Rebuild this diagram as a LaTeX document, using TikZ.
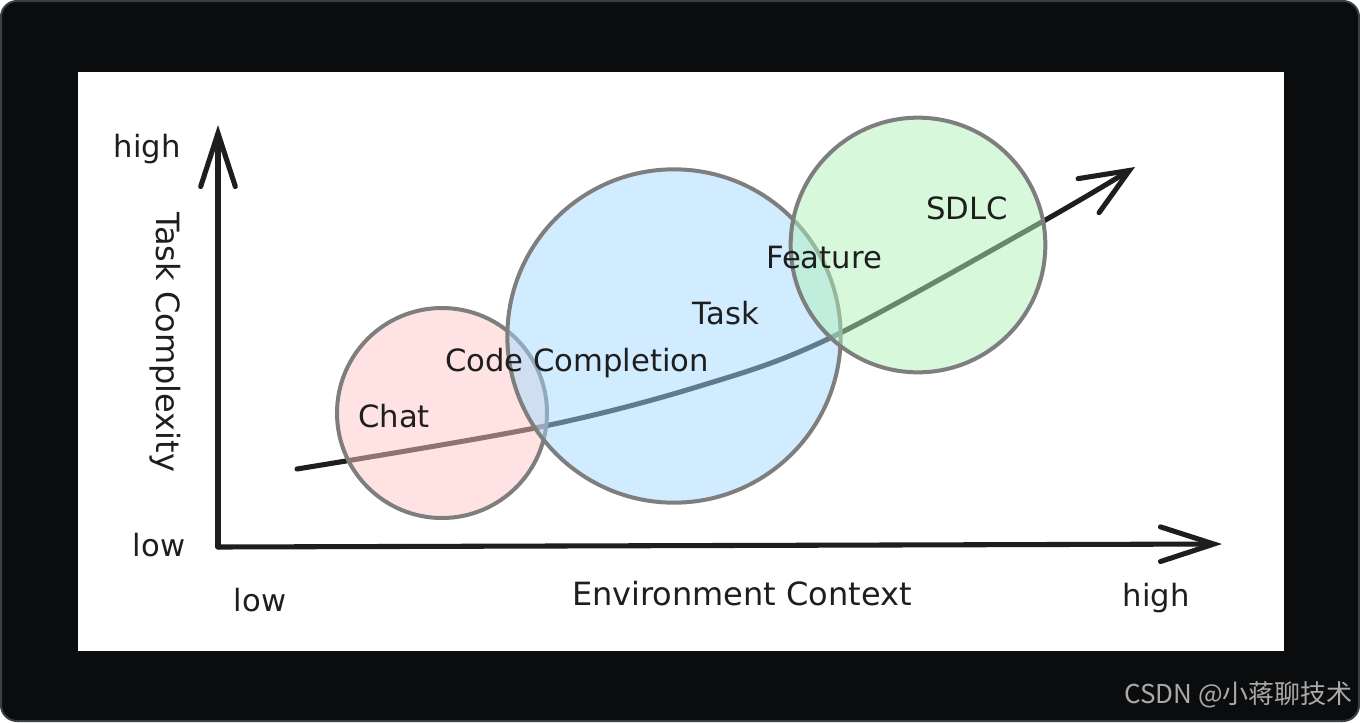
\documentclass[tikz,border=0pt]{standalone}
\usepackage{fontspec}
\setmainfont{DejaVu Sans}
\newfontfamily\cjk{Noto Sans CJK SC}
\usetikzlibrary{arrows.meta}
\definecolor{framebg}{HTML}{0B0C0E}
\definecolor{frameedge}{HTML}{3A3E45}
\definecolor{ink}{HTML}{1E1E1E}
\definecolor{ringgray}{HTML}{7E7E7E}
\definecolor{pinkfill}{HTML}{FFC9C9}
\definecolor{bluefill}{HTML}{A5D8FF}
\definecolor{greenfill}{HTML}{B2F2BB}
\definecolor{wmark}{HTML}{A9A9A9}
\tikzset{
  lbl/.style={inner sep=0pt, text=ink, font=\fontsize{23}{26}\selectfont},
  axisline/.style={draw=ink, line width=3.8pt, line cap=round, line join=round,
    -{Straight Barb[length=40pt,width=26pt,line cap=round]}},
  trend/.style={draw=ink, line width=3.8pt, line cap=round,
    -{Straight Barb[length=36pt,width=30pt,line cap=round]}},
  bubble/.style={circle, inner sep=0pt, outer sep=0pt, draw=ringgray, line width=3pt, fill opacity=0.5},
}
\begin{document}
\begin{tikzpicture}[x=0.75pt,y=-0.75pt]
\useasboundingbox (0,0) rectangle (1360,722);
\fill[white] (0,0) rectangle (1360,722);
\draw[fill=framebg, draw=frameedge, line width=1.5pt, rounded corners=12pt] (1,1) rectangle (1359,721);
\fill[white] (78,72) rectangle (1284,651);

% trend curve
\coordinate (c0) at (297,469);
\coordinate (c1) at (540,427);
\coordinate (c2) at (700,386);
\coordinate (c3) at (830,338);
\coordinate (c4) at (1040,223);
\coordinate (c5) at (1135,167);
\draw[trend] plot[smooth, tension=0.55] coordinates {(c0) (c1) (c2) (c3) (c4) (c5)};

% bubbles
\node[bubble, fill=pinkfill, minimum size=157.5pt] (chatc) at (442,413) {};
\node[bubble, fill=bluefill, minimum size=250pt] (taskc) at (674,336) {};
\node[bubble, fill=greenfill, minimum size=191pt] (sdlcc) at (918,245) {};

% axes
\coordinate (O) at (218,547);
\coordinate (ytop) at (218,125);
\coordinate (xend) at (1222,544);
\draw[axisline] (O) -- (ytop);
\draw[axisline] (O) -- (xend);

% labels
\node[lbl] (yhigh) at (147,149) {high};
\node[lbl] (ylow) at (159,545) {low};
\node[lbl, rotate=-90, font=\fontsize{24}{26}\selectfont] (ytitle) at (165,342) {Task Complexity};
\node[lbl] (xlow) at (260,600) {low};
\node[lbl, font=\fontsize{24}{26}\selectfont] (xtitle) at (742,594) {Environment Context};
\node[lbl] (xhigh) at (1156,598) {high};

\node[lbl] (chat) at (394,416) {Chat};
\node[lbl] (code) at (577,363) {Code Completion};
\node[lbl] (task) at (726,313) {Task};
\node[lbl] (feature) at (824,258) {Feature};
\node[lbl] (sdlc) at (967,208) {SDLC};

% watermark
\node[anchor=east, inner sep=0pt, text=wmark, font=\cjk\fontsize{19.5}{22}\selectfont] (wm) at (1353,695) {CSDN @小蒋聊技术};
\end{tikzpicture}
\end{document}
